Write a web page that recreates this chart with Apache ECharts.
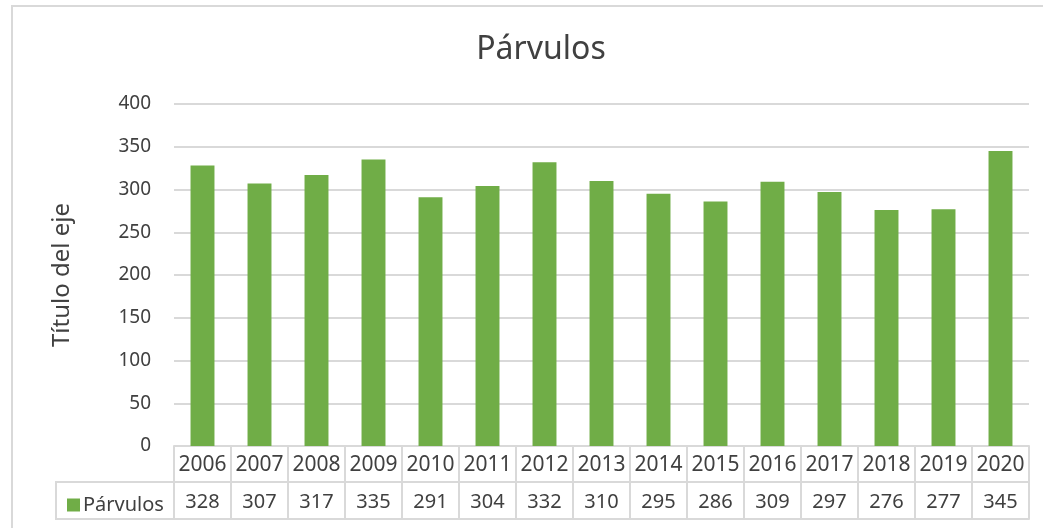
<!DOCTYPE html>
<html>
<head>
<meta charset="utf-8">
<script src="https://cdn.jsdelivr.net/npm/echarts@6/dist/echarts.min.js"></script>
<style>
html,body{margin:0;padding:0;background:#fff;}
#chart{width:1043px;height:528px;}
</style>
</head>
<body>
<div id="chart"></div>
<script>
const years = ['2006','2007','2008','2009','2010','2011','2012','2013','2014','2015','2016','2017','2018','2019','2020'];
const parvulos = [328,307,317,335,291,304,332,310,295,286,309,297,276,277,345];
const seriesName = 'Párvulos';
const titleText = 'Párvulos';
const yAxisName = 'Título del eje';

const FONT = '"Noto Sans", sans-serif';
const TXT = '#404040';
const GRID = '#d9d9d9';

const chart = echarts.init(document.getElementById('chart'), null, {renderer: 'canvas'});
chart.setOption({
  animation: false,
  backgroundColor: '#ffffff',
  textStyle: {fontFamily: FONT, color: TXT},
  title: {
    text: titleText,
    left: 536, top: 29,
    textAlign: 'center',
    textStyle: {fontFamily: FONT, fontSize: 32, fontWeight: 'normal', color: TXT}
  },
  legend: {
    data: [seriesName],
    left: 62, top: 490,
    icon: 'rect',
    itemWidth: 13, itemHeight: 13, itemGap: 6,
    textStyle: {fontFamily: FONT, fontSize: 20, color: TXT, padding: [0,0,0,-2]}
  },
  grid: {left: 174, right: 14, top: 104, bottom: 82, containLabel: false},
  xAxis: [
    {
      type: 'category', data: years, position: 'bottom',
      axisLine: {show: true, lineStyle: {color: GRID, width: 2}},
      axisTick: {show: true, interval: 0, length: 73, lineStyle: {color: GRID, width: 2}},
      axisLabel: {interval: 0, margin: 9, fontFamily: FONT, fontSize: 21, color: TXT}
    },
    {
      type: 'category', data: parvulos.map(String), position: 'bottom', offset: 36,
      axisLine: {show: true, lineStyle: {color: GRID, width: 2}},
      axisTick: {show: false},
      axisLabel: {interval: 0, margin: 10, fontFamily: FONT, fontSize: 20, color: TXT}
    },
    {
      type: 'category', data: years, position: 'bottom', offset: 73,
      axisLine: {show: true, lineStyle: {color: GRID, width: 2}},
      axisTick: {show: false},
      axisLabel: {show: false}
    }
  ],
  yAxis: {
    type: 'value', min: 0, max: 400, interval: 50,
    name: yAxisName, nameLocation: 'middle', nameGap: 100, nameRotate: 90,
    nameTextStyle: {fontFamily: FONT, fontSize: 24, color: TXT},
    axisLine: {show: false}, axisTick: {show: false},
    axisLabel: {margin: 23, fontFamily: FONT, fontSize: 19, color: TXT},
    splitLine: {lineStyle: {color: GRID, width: 2}}
  },
  series: [{
    name: seriesName, type: 'bar', data: parvulos, xAxisIndex: 0,
    barWidth: '42%',
    itemStyle: {color: '#70ad47'}
  }],
  graphic: [
    {type: 'rect', shape: {x: 12, y: 6, width: 1200, height: 800}, style: {fill: 'none', stroke: GRID, lineWidth: 2}, silent: true},
    {type: 'rect', shape: {x: 56, y: 482, width: 118, height: 37}, style: {fill: 'none', stroke: GRID, lineWidth: 2}, silent: true}
  ]
});
</script>
</body>
</html>
